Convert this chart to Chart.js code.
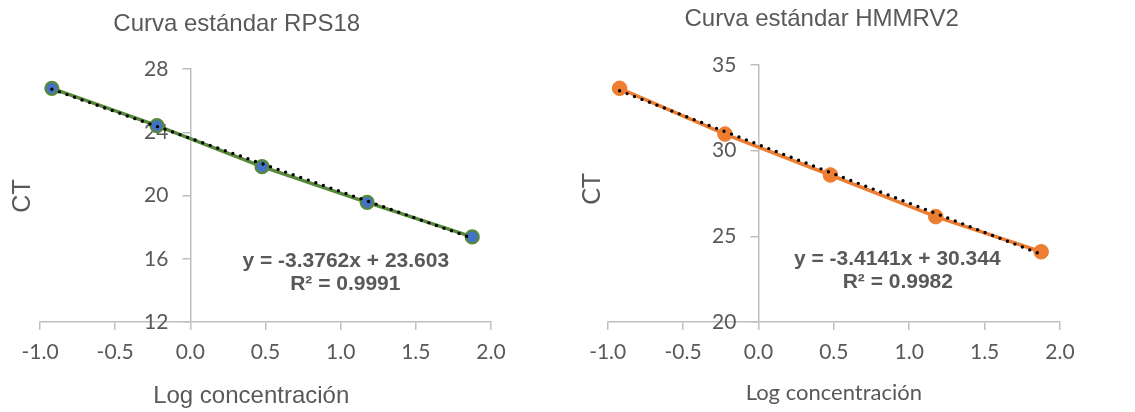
<!DOCTYPE html>
<html><head><meta charset="utf-8">
<script src="https://cdn.jsdelivr.net/npm/chart.js@4.4.1/dist/chart.umd.min.js"></script>
<style>
html,body{margin:0;padding:0;background:#fff;}
#wrap{position:relative;width:1135px;height:412px;overflow:hidden;background:#fff;}
.box{position:absolute;top:0;height:412px;}
</style></head><body>
<div id="wrap">
<div class="box" style="left:0;width:560px"><canvas id="c1" width="560" height="412"></canvas></div>
<div class="box" style="left:560px;width:575px"><canvas id="c2" width="575" height="412"></canvas></div>
</div>
<script>
// ---- data ----
const logConcentration = [-0.921, -0.222, 0.477, 1.176, 1.875];
const ctRPS18  = [26.78, 24.42, 21.82, 19.57, 17.38];
const ctHMMRV2 = [33.64, 30.97, 28.58, 26.15, 24.10];
const trendRPS18  = [26.72, 17.30];   // trend line value at first and last x
const trendHMMRV2 = [33.50, 23.95];
const xTicks = [-1.0, -0.5, 0.0, 0.5, 1.0, 1.5, 2.0];
const yTicksRPS18  = [12, 16, 20, 24, 28];
const yTicksHMMRV2 = [20, 25, 30, 35];
const titleRPS18 = 'Curva estándar RPS18';
const titleHMMRV2 = 'Curva estándar HMMRV2';
const xTitle = 'Log concentración';
const yTitle = 'CT';
const eqRPS18  = ['y = -3.3762x + 23.603', 'R² = 0.9991'];
const eqHMMRV2 = ['y = -3.4141x + 30.344', 'R² = 0.9982'];

const GRAY = '#595959';
const AXIS = '#BFBFBF';

const textPlugin = {
  id: 'texts',
  afterDraw(chart, args, opts) {
    const ctx = chart.ctx;
    (opts.items || []).forEach(t => {
      ctx.save();
      ctx.font = t.font;
      ctx.fillStyle = GRAY;
      ctx.textAlign = 'center';
      ctx.textBaseline = 'alphabetic';
      ctx.translate(t.x, t.y);
      if (t.rotate) ctx.rotate(t.rotate);
      ctx.fillText(t.text, 0, 0);
      ctx.restore();
    });
  }
};

// place the vertical axis where x = 0, and give the tick labels room to show
const crossAxis = {
  id: 'crossAxis',
  afterLayout(chart) {
    const xs = chart.scales.x, ys = chart.scales.y;
    const px = xs.getPixelForValue(0);
    ys.left = 0; ys.right = px;
    xs.bottom = chart.height;
  }
};

function makeChart(id, cfg) {
  const n = logConcentration.length;
  return new Chart(document.getElementById(id), {
    type: 'scatter',
    data: {
      datasets: [
        {
          label: 'Lineal',
          data: [{x: logConcentration[0], y: cfg.trend[0]}, {x: logConcentration[n - 1], y: cfg.trend[1]}],
          showLine: true, borderColor: '#000', borderWidth: 3.4,
          borderDash: [0, 8], borderCapStyle: 'round',
          pointRadius: 0, order: 0
        },
        {
          label: 'CT',
          data: logConcentration.map((x, i) => ({x, y: cfg.values[i]})),
          showLine: true, borderColor: cfg.line, borderWidth: 3.5,
          pointRadius: cfg.r, pointBackgroundColor: cfg.fill,
          pointBorderColor: cfg.border, pointBorderWidth: cfg.bw, order: 1
        }
      ]
    },
    options: {
      responsive: false, animation: false, events: [],
      layout: { padding: cfg.padding },
      plugins: {
        legend: { display: false }, tooltip: { enabled: false },
        texts: { items: cfg.texts }
      },
      scales: {
        x: {
          type: 'linear', position: 'bottom',
          min: xTicks[0], max: xTicks[xTicks.length - 1],
          afterBuildTicks: s => { s.ticks = xTicks.map(v => ({value: v})); },
          afterFit: s => { s.height = 30; },
          grid: { drawOnChartArea: false, drawTicks: true, tickLength: 8, color: AXIS, lineWidth: 1.5 },
          border: { display: true, color: AXIS, width: 1.5 },
          ticks: { color: GRAY, font: { family: 'Lato', size: 21 }, padding: 10, maxRotation: 0, autoSkip: false,
                   callback: v => Number(v).toFixed(1) }
        },
        y: {
          type: 'linear', position: 'left',
          min: cfg.yTicks[0], max: cfg.yTicks[cfg.yTicks.length - 1],
          afterBuildTicks: s => { s.ticks = cfg.yTicks.map(v => ({value: v})); },
          afterFit: s => { s.width = 0; },
          grid: { drawOnChartArea: false, drawTicks: true, tickLength: 8, color: AXIS, lineWidth: 1.5 },
          border: { display: true, color: AXIS, width: 1.5 },
          ticks: { color: GRAY, font: { family: 'Lato', size: 21 }, padding: 14, autoSkip: false,
                   callback: v => String(v) }
        }
      }
    },
    plugins: [crossAxis, textPlugin]
  });
}

function draw() {
  makeChart('c1', {
    values: ctRPS18, trend: trendRPS18, yTicks: yTicksRPS18,
    line: '#57893A', fill: '#4472C4', border: '#57893A', r: 6.5, bw: 2.2,
    padding: { left: 40, right: 69, top: 69, bottom: 60 },
    texts: [
      { text: titleRPS18, font: '24px "Liberation Sans"', x: 236.7, y: 31 },
      { text: xTitle, font: '24px "Liberation Sans"', x: 251.2, y: 403 },
      { text: yTitle, font: '25px "Liberation Sans"', x: 30, y: 196, rotate: -Math.PI / 2 },
      { text: eqRPS18[0], font: 'bold 21px "Liberation Sans"', x: 345.8, y: 266.5 },
      { text: eqRPS18[1], font: 'bold 21px "Liberation Sans"', x: 345.3, y: 290 }
    ]
  });
  makeChart('c2', {
    values: ctHMMRV2, trend: trendHMMRV2, yTicks: yTicksHMMRV2,
    line: '#ED7D31', fill: '#ED7D31', border: '#ED7D31', r: 7.3, bw: 1,
    padding: { left: 47.7, right: 75, top: 65, bottom: 60 },
    texts: [
      { text: titleHMMRV2, font: '24px "Liberation Sans"', x: 261.7, y: 26 },
      { text: xTitle, font: '22px Lato', x: 273.8, y: 400 },
      { text: yTitle, font: '25px Lato', x: 40, y: 189, rotate: -Math.PI / 2 },
      { text: eqHMMRV2[0], font: 'bold 21px "Liberation Sans"', x: 337.3, y: 265 },
      { text: eqHMMRV2[1], font: 'bold 21px "Liberation Sans"', x: 337.8, y: 288.3 }
    ]
  });
}

Promise.all([
  document.fonts.load('21px Lato'),
  document.fonts.load('24px "Liberation Sans"'),
  document.fonts.load('bold 21px "Liberation Sans"')
]).then(draw, draw);
</script>
</body></html>
